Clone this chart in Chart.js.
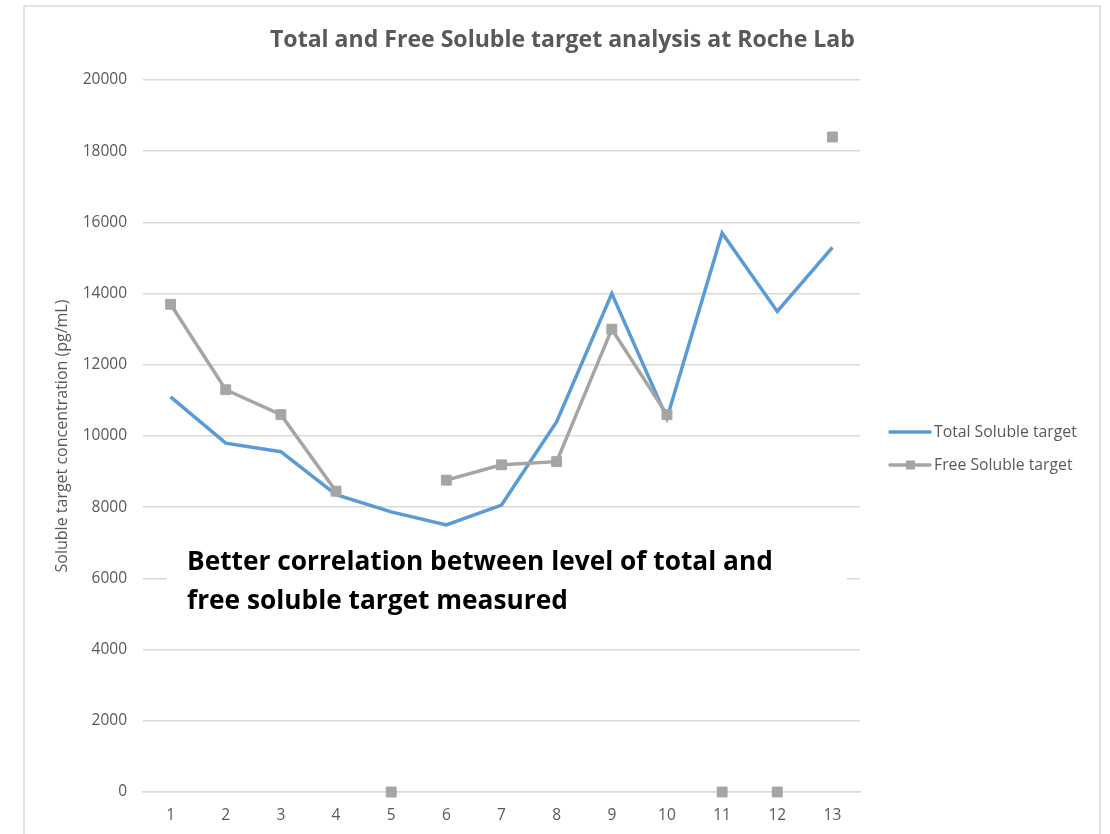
<!DOCTYPE html>
<html>
<head>
<meta charset="utf-8">
<title>Total and Free Soluble target analysis at Roche Lab</title>
<script src="https://cdn.jsdelivr.net/npm/chart.js@4/dist/chart.umd.min.js"></script>
<style>
    html, body {
        margin: 0;
        padding: 0;
        background: #ffffff;
    }

    #wrap {
        position: relative;
        width: 1110px;
        height: 834px;
    }
</style>
</head>
<body>
<div id="wrap">
    <canvas id="chart" width="1110" height="834"></canvas>
</div>

<script>
// chart data
const sampleLabels = ["1", "2", "3", "4", "5", "6", "7", "8", "9", "10", "11", "12", "13"];

const totalSoluble = [11100, 9800, 9560, 8350, 7870, 7500, 8060, 10400, 14000, 10500, 15700, 13500, 15300];

const freeSoluble = [13700, 11300, 10600, 8450, 0, 8760, 9190, 9280, 13000, 10600, 0, 0, 18400];

const yTicks = [0, 2000, 4000, 6000, 8000, 10000, 12000, 14000, 16000, 18000, 20000];

const chartTitle = "Total and Free Soluble target analysis at Roche Lab";
const yAxisTitle = "Soluble target concentration (pg/mL)";
const noteLines = [
    "Better correlation between level of total and",
    "free soluble target measured"
];

const FONT = "'Open Sans', 'Noto Sans', sans-serif";
const TEXT_GREY = "#595959";
const GRID = "#d9d9d9";
const BLUE = "#5b9bd5";
const GREY = "#a5a5a5";

// find a font size that makes text span a given width
function fitFont(ctx, text, weight, width) {
    ctx.font = weight + " 20px " + FONT;
    const size = 20 * width / ctx.measureText(text).width;
    return weight + " " + size.toFixed(2) + "px " + FONT;
}

// frame, title, note box and legend, drawn like the Excel original
const decorations = {
    id: "decorations",

    beforeDraw(chart) {
        const ctx = chart.ctx;
        ctx.save();
        ctx.fillStyle = "#ffffff";
        ctx.fillRect(0, 0, chart.width, chart.height);
        ctx.strokeStyle = GRID;
        ctx.lineWidth = 1.5;
        ctx.strokeRect(24, 6, 1076, 900);
        ctx.restore();
    },

    afterDatasetsDraw(chart) {
        const ctx = chart.ctx;
        ctx.save();

        // title
        ctx.fillStyle = TEXT_GREY;
        ctx.textBaseline = "middle";
        ctx.textAlign = "left";
        ctx.font = fitFont(ctx, chartTitle, "bold", 585);
        ctx.fillText(chartTitle, 270, 40);

        // note with white box behind it
        ctx.fillStyle = "#ffffff";
        ctx.fillRect(167, 540, 680, 85);
        ctx.fillStyle = "#000000";
        ctx.font = fitFont(ctx, noteLines[0], "bold", 586);
        ctx.fillText(noteLines[0], 187, 563);
        ctx.fillText(noteLines[1], 187, 602);

        // legend
        const rows = [432, 465];
        chart.data.datasets.forEach(function (ds, i) {
            const y = rows[i];
            ctx.strokeStyle = ds.borderColor;
            ctx.lineWidth = 3.5;
            ctx.lineCap = "round";
            ctx.beginPath();
            ctx.moveTo(890, y);
            ctx.lineTo(930, y);
            ctx.stroke();
            if (ds.pointRadius > 0) {
                ctx.fillStyle = ds.pointBackgroundColor;
                ctx.fillRect(906, y - 4.5, 9, 9);
            }
            ctx.fillStyle = TEXT_GREY;
            ctx.font = fitFont(ctx, chart.data.datasets[0].label, "normal", 143);
            ctx.fillText(ds.label, 934, y);
        });

        ctx.restore();
    }
};

const ctx = document.getElementById("chart");

new Chart(ctx, {
    type: "line",

    data: {
        labels: sampleLabels,

        datasets: [
            {
                label: "Total Soluble target",
                data: totalSoluble,
                borderColor: BLUE,
                backgroundColor: BLUE,
                borderWidth: 3.5,
                pointRadius: 0,
                tension: 0,
                order: 2
            },
            {
                label: "Free Soluble target",
                data: freeSoluble,
                borderColor: GREY,
                backgroundColor: GREY,
                pointBackgroundColor: GREY,
                pointBorderColor: GREY,
                pointBorderWidth: 1,
                pointStyle: "rect",
                pointRadius: 7,
                borderWidth: 3.5,
                tension: 0,
                order: 1,
                clip: false,
                // zero readings stand alone, no line to them
                segment: {
                    borderColor: function (c) {
                        return (c.p0.parsed.y === 0 || c.p1.parsed.y === 0)
                            ? "rgba(0,0,0,0)" : GREY;
                    }
                }
            }
        ]
    },

    options: {
        responsive: false,
        animation: false,
        events: [],

        layout: {
            padding: { left: 0, right: 250, top: 80, bottom: 0 }
        },

        plugins: {
            legend: { display: false },
            title: { display: false },
            tooltip: { enabled: false }
        },

        scales: {
            x: {
                offset: true,
                grid: { display: false, drawTicks: false },
                border: { display: true, color: GRID, width: 1.5 },
                ticks: {
                    color: TEXT_GREY,
                    padding: 14,
                    font: { family: FONT, size: 15.5 },
                    maxRotation: 0
                },
                afterFit: function (scale) {
                    scale.height = 42;
                }
            },

            y: {
                min: 0,
                max: 20000,
                afterBuildTicks: function (scale) {
                    scale.ticks = yTicks.map(function (v) { return { value: v }; });
                },
                grid: { color: GRID, lineWidth: 1.5, drawTicks: false },
                border: { display: false },
                ticks: {
                    color: TEXT_GREY,
                    padding: 16,
                    font: { family: FONT, size: 15.5 },
                    callback: function (v) { return String(v); }
                },
                title: {
                    display: true,
                    text: yAxisTitle,
                    color: TEXT_GREY,
                    font: { family: FONT, size: 16 },
                    padding: { top: 53, bottom: 0 }
                },
                afterFit: function (scale) {
                    scale.width = 143;
                }
            }
        }
    },

    plugins: [decorations]
});
</script>
</body>
</html>
